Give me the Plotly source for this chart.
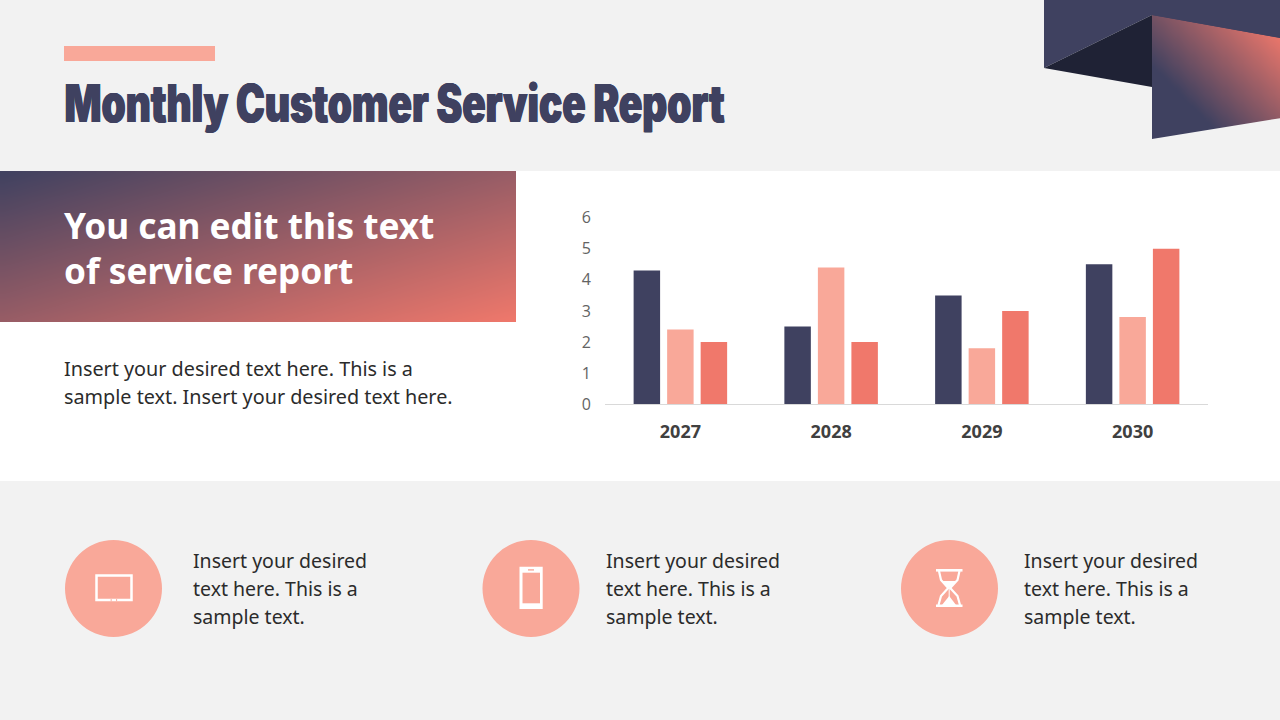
import numpy as np
import plotly.graph_objects as go

# ---- chart data ----
years = ["2027", "2028", "2029", "2030"]
series_a = [4.3, 2.5, 3.5, 4.5]
series_b = [2.4, 4.4, 1.8, 2.8]
series_c = [2, 2, 3, 5]
y_ticks = [0, 1, 2, 3, 4, 5, 6]

# ---- text ----
title_text = "Monthly Customer Service Report"
banner_lines = ["You can edit this text", "of service report"]
body_lines = ["Insert your desired text here. This is a",
              "sample text. Insert your desired text here."]
card_lines = ["Insert your desired", "text here. This is a", "sample text."]

NAVY = "#3f4160"
PEACH = "#f9a899"
CORAL = "#f0786b"
DARK = "#1f2235"
BG = "#f2f2f2"
INK = "#2b2b2b"
W, H = 1280, 720
BODY_FONT = "Noto Sans"


def px(x):
    return x / W


def py(y):
    return 1 - y / H


def rect(x0, y0, x1, y1, color, layer="below"):
    return dict(type="rect", xref="paper", yref="paper", x0=px(x0), x1=px(x1),
                y0=py(y0), y1=py(y1), fillcolor=color, line_width=0, layer=layer)


def poly(points, fill=None, stroke=None, width=0, close=True, layer="above"):
    d = "M " + " L ".join(f"{px(a):.5f} {py(b):.5f}" for a, b in points) + (" Z" if close else "")
    return dict(type="path", xref="paper", yref="paper", path=d, fillcolor=fill or "rgba(0,0,0,0)",
                line=dict(color=stroke or "rgba(0,0,0,0)", width=width), layer=layer)


def circle(cx, cy, r, color, layer="above"):
    return dict(type="circle", xref="paper", yref="paper", x0=px(cx - r), x1=px(cx + r),
                y0=py(cy + r), y1=py(cy - r), fillcolor=color, line_width=0, layer=layer)


def text(x, y, s, size, color=INK, family=BODY_FONT, weight="normal", xanchor="left", shadow=None):
    font = dict(size=size, color=color, family=family, weight=weight)
    if shadow:
        font["shadow"] = shadow
    return dict(xref="paper", yref="paper", x=px(x), y=py(y), text=s, showarrow=False,
                xanchor=xanchor, yanchor="middle", font=font, borderpad=0, borderwidth=0)


fig = go.Figure()

for name, vals, col in [("Series 1", series_a, NAVY), ("Series 2", series_b, PEACH), ("Series 3", series_c, CORAL)]:
    fig.add_trace(go.Bar(x=years, y=vals, name=name, marker=dict(color=col, line_width=0), xaxis="x", yaxis="y"))

# decorative diagonal gradients, painted through a heatmap in pixel space
scale = [[0, NAVY], [1, CORAL]]
xs = np.linspace(0, 516, 71)
ys = np.linspace(171, 322, 41)
gx, gy = np.meshgrid((xs[:-1] + xs[1:]) / 2, (ys[:-1] + ys[1:]) / 2)
fig.add_trace(go.Heatmap(x=xs, y=ys, z=(gx / 516 + (gy - 171) / 151) / 2, colorscale=scale, zmin=0, zmax=1,
                         zsmooth="best", showscale=False, hoverinfo="skip", xaxis="x2", yaxis="y2"))
xs2 = np.linspace(1152, 1280, 41)
ys2 = np.linspace(15, 139, 41)
gx2, gy2 = np.meshgrid((xs2[:-1] + xs2[1:]) / 2, (ys2[:-1] + ys2[1:]) / 2)
t2 = np.clip((gx2 - 1152) / 128 * 0.8 + (139 - gy2) / 124 * 0.75 - 0.45, 0, 1)
fig.add_trace(go.Heatmap(x=xs2, y=ys2, z=t2, colorscale=scale, zmin=0, zmax=1,
                         zsmooth="best", showscale=False, hoverinfo="skip", xaxis="x2", yaxis="y2"))

shapes = [
    rect(0, 171, 1280, 481, "#ffffff"),
    rect(64, 46, 215, 61, PEACH),
    poly([(1044, 0), (1280, 0), (1280, 38), (1152, 15), (1044, 68)], fill=NAVY),
    poly([(1044, 68), (1152, 15), (1152, 87)], fill=DARK),
    # clip the gradient block to its parallelogram
    poly([(1152, 14), (1281, 14), (1281, 38), (1152, 15)], fill=NAVY),
    poly([(1152, 139), (1281, 118), (1281, 140), (1152, 140)], fill=BG),
]

centers = [113.5, 531, 949.5]
for c in centers:
    shapes.append(circle(c, 588.5, 48.5, PEACH))

# tablet icon
shapes.append(dict(type="rect", xref="paper", yref="paper", x0=px(96.5), x1=px(131.5), y0=py(600), y1=py(575.5),
                   fillcolor="rgba(0,0,0,0)", line=dict(color="#ffffff", width=2.5), layer="above"))
shapes.append(rect(110.7, 599, 111.6, 601.3, PEACH, layer="above"))
shapes.append(rect(116.2, 599, 117.1, 601.3, PEACH, layer="above"))
# phone icon
shapes.append(rect(519.5, 566.7, 542.7, 609, "#ffffff", layer="above"))
shapes.append(rect(522.5, 572.7, 540, 603.3, PEACH, layer="above"))
shapes.append(rect(528, 569.2, 534, 570.6, PEACH, layer="above"))
# hourglass icon
shapes.append(rect(936, 569, 962.5, 571.6, "#ffffff", layer="above"))
shapes.append(rect(936, 604.5, 962.5, 607, "#ffffff", layer="above"))
shapes.append(poly([(939, 571), (941, 580), (948.2, 588), (941, 596), (938.5, 605)], stroke="#ffffff", width=2.2, close=False))
shapes.append(poly([(959.5, 571), (957.5, 580), (950.2, 588), (957.5, 596), (960, 605)], stroke="#ffffff", width=2.2, close=False))
shapes.append(poly([(942, 581), (956.5, 581), (949.2, 588)], fill="#ffffff"))
shapes.append(poly([(949.2, 596), (956, 605), (942, 605)], fill="#ffffff"))
shapes.append(poly([(949.2, 588), (949.2, 597)], stroke="#ffffff", width=1, close=False))

annotations = [
    text(394, 104, title_text, 52, color=NAVY, family="Inter", weight=900, xanchor="center",
         shadow=f"0.7px 0 0 {NAVY}, -0.7px 0 0 {NAVY}"),
    text(64, 224.5, banner_lines[0], 35.2, color="#ffffff", weight="bold"),
    text(64, 269.5, banner_lines[1], 35.2, color="#ffffff", weight="bold"),
    text(64, 369, body_lines[0], 19.8),
    text(64, 396.5, body_lines[1], 19.8),
]
for x0 in (193, 606, 1024):
    for y0, line in zip((560, 588, 616), card_lines):
        annotations.append(text(x0, y0, line, 19.5))

fig.update_layout(
    width=W, height=H, margin=dict(l=0, r=0, t=0, b=0, autoexpand=False), paper_bgcolor=BG,
    plot_bgcolor="rgba(0,0,0,0)",
    showlegend=False, barmode="group", bargap=0.333, bargroupgap=0.21,
    shapes=shapes, annotations=annotations,
    xaxis=dict(domain=[px(605), px(1208)], type="category", showgrid=False, zeroline=False, showline=True,
               linecolor="#d9d9d9", linewidth=1, ticks="", ticklabelstandoff=11, automargin=False,
               tickfont=dict(family="Open Sans", size=18, color="#404040", weight="bold"), anchor="y"),
    yaxis=dict(domain=[py(404), py(217.8)], range=[0, 6], tickvals=y_ticks, showgrid=False, zeroline=False,
               showline=False, ticks="", ticklabelstandoff=13, automargin=False,
               tickfont=dict(family="Open Sans", size=16, color="#636363"), anchor="x"),
    xaxis2=dict(domain=[0, 1], range=[0, W], visible=False, anchor="y2", fixedrange=True, automargin=False),
    yaxis2=dict(domain=[0, 1], range=[H, 0], visible=False, anchor="x2", fixedrange=True, automargin=False),
)

# condense the headline glyphs to the width of the reference's heavy condensed face
post = """
document.body.style.margin='0';
document.querySelectorAll('.annotation-text').forEach(function(t){
  if(t.textContent.indexOf('Monthly')===0){
    t.setAttribute('textLength','660');
    t.setAttribute('lengthAdjust','spacingAndGlyphs');
  }
});
"""
fig.write_html("out.html", config={"displayModeBar": False}, post_script=post)
